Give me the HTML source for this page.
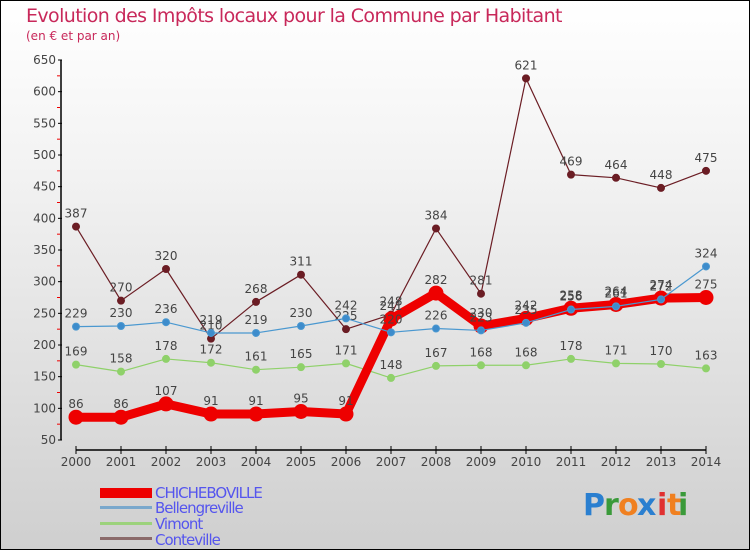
<!DOCTYPE html>
<html><head><meta charset="utf-8"><style>
body{margin:0}
#c{width:750px;height:550px;position:relative;background:linear-gradient(#fff,#f3f3f3 30%,#cfcfcf);box-sizing:border-box;border:1px solid #000;font-family:"DejaVu Sans","Liberation Sans",sans-serif;overflow:hidden}
svg text{font-family:"DejaVu Sans","Liberation Sans",sans-serif}
</style></head><body>
<div id="c">
<svg id="s" width="750" height="550" style="position:absolute;left:-1px;top:-1px">
<text x="26" y="22" font-size="19" fill="#c8285a" style="letter-spacing:-0.6px">Evolution des Impôts locaux pour la Commune par Habitant</text>
<text x="26" y="40" font-size="12" fill="#c8285a">(en € et par an)</text>
<g id="axes"></g><g id="series"></g>
<g font-size="15" fill="#5555ee">
<rect x="100" y="488" width="52" height="10" fill="#e00"/>
<text x="155" y="498" style="letter-spacing:-1px">CHICHEBOVILLE</text>
<rect x="100" y="506" width="52" height="3" fill="#7aa8cc"/>
<text x="155" y="513" style="letter-spacing:-1px">Bellengreville</text>
<rect x="100" y="522" width="52" height="3" fill="#9cd27c"/>
<text x="155" y="529" style="letter-spacing:-1px">Vimont</text>
<rect x="100" y="537" width="52" height="3" fill="#8a6a6a"/>
<text x="155" y="545" style="letter-spacing:-1px">Conteville</text>
</g>
<g font-size="30" font-weight="bold" font-family="DejaVu Sans">
<text x="583" y="515" fill="#2a7fd0">P</text><text x="604" y="515" fill="#3a9a3a">r</text><text x="618" y="515" fill="#f08020">o</text><text x="637" y="515" fill="#2a7fd0">x</text><text x="657" y="515" fill="#e03030">i</text><text x="667" y="515" fill="#f08020">t</text><text x="678" y="515" fill="#3a9a3a">i</text>
</g>
</svg>
</div>
<script>
const years=["2000","2001","2002","2003","2004","2005","2006","2007","2008","2009","2010","2011","2012","2013","2014"];
const yTicks=[50,100,150,200,250,300,350,400,450,500,550,600,650];
const chicheboville=[86,86,107,91,91,95,91,241,282,230,242,258,264,274,275];
const bellengreville=[229,230,236,219,219,230,242,220,226,223,235,256,261,272,324];
const vimont=[169,158,178,172,161,165,171,148,167,168,168,178,171,170,163];
const conteville=[387,270,320,210,268,311,225,248,384,281,621,469,464,448,475];
const NS="http://www.w3.org/2000/svg";
const xs=i=>76+i*45, ys=v=>440-(v-50)*380/600;
function mk(t,a,p){const e=document.createElementNS(NS,t);for(const k in a)e.setAttribute(k,a[k]);p.appendChild(e);return e;}
const ax=document.getElementById('axes'), se=document.getElementById('series');
let l=mk('line',{x1:61,y1:60,x2:61,y2:440,stroke:'#000','stroke-width':1.5},ax);


l=mk('line',{x1:76,y1:450,x2:706,y2:450,stroke:'#000','stroke-width':1.5},ax);


yTicks.forEach(v=>{mk('line',{x1:58,y1:ys(v),x2:62,y2:ys(v),stroke:'#000'},ax);
 if(v<650)mk('line',{x1:57,y1:ys(v+25),x2:60,y2:ys(v+25),stroke:'#e00'},ax);
 const t=mk('text',{x:56,y:ys(v)+4,'text-anchor':'end','font-size':12,fill:'#444'},ax);t.textContent=v;
 
 });
years.forEach((y,i)=>{mk('line',{x1:xs(i),y1:446,x2:xs(i),y2:454,stroke:'#000'},ax);
 const t=mk('text',{x:xs(i),y:466,'text-anchor':'middle','font-size':12,fill:'#444'},ax);t.textContent=y;
 
 });
function draw(d,name,col,w,r,lc){const g=mk('g',{},se);
 
 
 mk('polyline',{points:d.map((v,i)=>xs(i)+','+ys(v)).join(' '),fill:'none',stroke:col,'stroke-width':w,'stroke-linejoin':'round'},g);
 d.forEach((v,i)=>{const c=mk('circle',{cx:xs(i),cy:ys(v),r:r,fill:lc,stroke:col},g);
  
  
  const t=mk('text',{x:xs(i),y:ys(v)-9,'text-anchor':'middle','font-size':12,fill:'#444'},g);t.textContent=v;
  
  });}
draw(conteville,'conteville','#6b1d24',1.2,3.5,'#6b1d24');
draw(vimont,'vimont','#8fd16a',1.2,3.5,'#8fd16a');
draw(chicheboville,'chicheboville','#ee0000',9,7,'#ee0000');
draw(bellengreville,'bellengreville','#4a98d0',1.2,3.5,'#3d8ccc');
</script>
</body></html>
